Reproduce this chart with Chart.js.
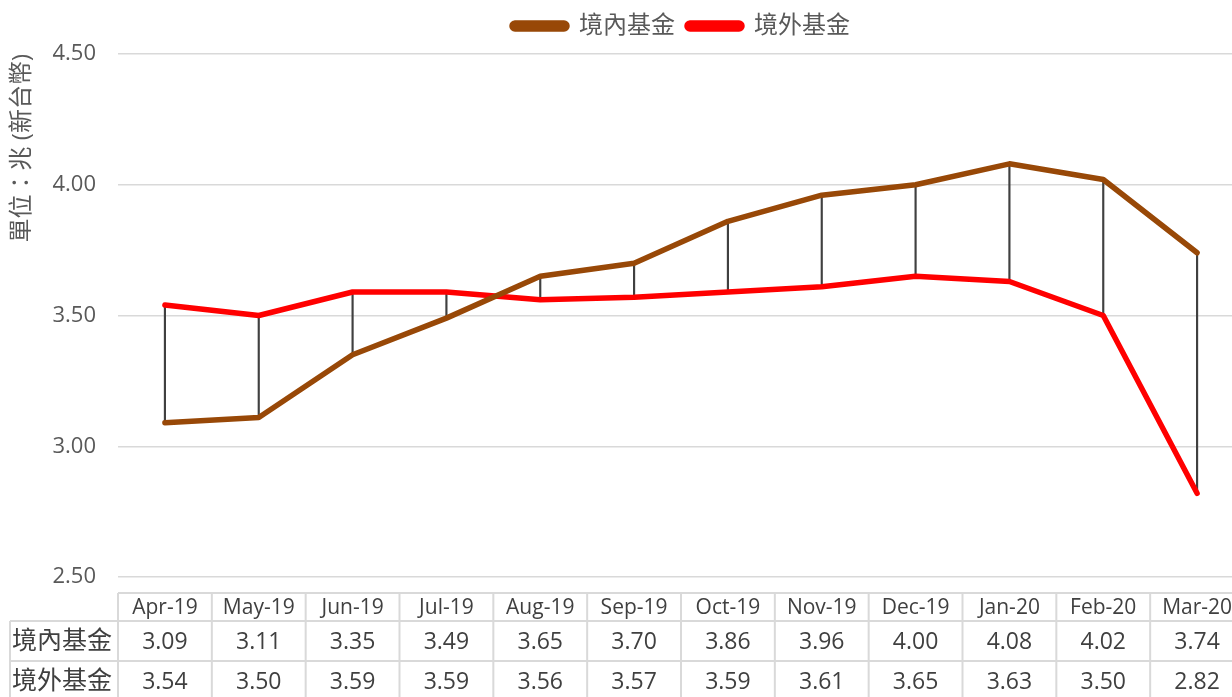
<!DOCTYPE html>
<html>
<head>
<meta charset="utf-8">
<script src="https://cdn.jsdelivr.net/npm/chart.js@4.4.1/dist/chart.umd.min.js"></script>
<style>
  html, body { margin: 0; padding: 0; background: #fff; overflow: hidden; }
  #wrap { width: 1244px; height: 697px; }
</style>
</head>
<body>
<div id="wrap"><canvas id="fundChart"></canvas></div>
<script>
// ---- data ----
const months = ['Apr-19', 'May-19', 'Jun-19', 'Jul-19', 'Aug-19', 'Sep-19',
                'Oct-19', 'Nov-19', 'Dec-19', 'Jan-20', 'Feb-20', 'Mar-20'];
const domestic = [3.09, 3.11, 3.35, 3.49, 3.65, 3.70, 3.86, 3.96, 4.00, 4.08, 4.02, 3.74];
const offshore = [3.54, 3.50, 3.59, 3.59, 3.56, 3.57, 3.59, 3.61, 3.65, 3.63, 3.50, 2.82];
const seriesNames = ['境內基金', '境外基金'];
const yTicks = [2.50, 3.00, 3.50, 4.00, 4.50];

const FONT = "'Open Sans', 'Noto Sans CJK TC', sans-serif";
const GRID = '#d9d9d9';

// high-low lines between the two series
const hiLow = domestic.map((v, i) => [Math.min(v, offshore[i]), Math.max(v, offshore[i])]);

// centre the legend over the plot area instead of the whole canvas, nudge it up
const legendShift = {
  id: 'legendShift',
  afterLayout(chart) {
    const lg = chart.legend;
    const area = chart.chartArea;
    const shift = (area.left + area.right) / 2 - (lg.left + lg.right) / 2;
    lg.left += shift;
    lg.right += shift;
    lg.top -= 6;
    lg.bottom -= 6;
  }
};

// data table under the plot
const dataTable = {
  id: 'dataTable',
  afterDraw(chart) {
    const ctx = chart.ctx;
    const x = chart.scales.x;
    const step = x.getPixelForValue(1) - x.getPixelForValue(0);
    const left = x.getPixelForValue(0) - step / 2;
    const base = chart.chartArea.bottom;
    const rows = [base + 16, base + 44, base + 84, base + 124];
    const labelLeft = 10;

    ctx.save();
    ctx.strokeStyle = GRID;
    ctx.lineWidth = 2;
    ctx.beginPath();
    ctx.moveTo(left, rows[0]); ctx.lineTo(chart.width, rows[0]);
    ctx.moveTo(labelLeft, rows[1]); ctx.lineTo(chart.width, rows[1]);
    ctx.moveTo(labelLeft, rows[2]); ctx.lineTo(chart.width, rows[2]);
    ctx.moveTo(labelLeft, rows[1]); ctx.lineTo(labelLeft, rows[3]);
    for (let k = 0; k <= months.length; k++) {
      const px = left + k * step;
      ctx.moveTo(px, rows[0]); ctx.lineTo(px, rows[3]);
    }
    ctx.stroke();

    ctx.fillStyle = '#404040';
    ctx.textBaseline = 'middle';
    ctx.textAlign = 'center';
    ctx.font = `21px ${FONT}`;
    months.forEach((m, i) => ctx.fillText(m, x.getPixelForValue(i), (rows[0] + rows[1]) / 2 + 1));
    ctx.font = `23px ${FONT}`;
    [domestic, offshore].forEach((vals, r) => {
      const cy = (rows[r + 1] + rows[r + 2]) / 2 + 1;
      vals.forEach((v, i) => ctx.fillText(v.toFixed(2), x.getPixelForValue(i), cy));
    });
    ctx.textAlign = 'left';
    ctx.font = `25px ${FONT}`;
    seriesNames.forEach((n, r) => ctx.fillText(n, labelLeft + 2, (rows[r + 1] + rows[r + 2]) / 2 + 1));
    ctx.restore();
  }
};

new Chart(document.getElementById('fundChart'), {
  data: {
    labels: months,
    datasets: [
      {
        type: 'line',
        label: seriesNames[0],
        data: domestic,
        borderColor: '#984807',
        backgroundColor: '#984807',
        borderWidth: 5.5,
        pointRadius: 0,
        borderJoinStyle: 'round',
        borderCapStyle: 'round',
        order: 1
      },
      {
        type: 'line',
        label: seriesNames[1],
        data: offshore,
        borderColor: '#ff0000',
        backgroundColor: '#ff0000',
        borderWidth: 5.5,
        pointRadius: 0,
        borderJoinStyle: 'round',
        borderCapStyle: 'round',
        order: 2
      },
      {
        type: 'bar',
        label: 'hilo',
        data: hiLow,
        backgroundColor: '#404040',
        barThickness: 1.5,
        order: 3
      }
    ]
  },
  options: {
    responsive: true,
    maintainAspectRatio: false,
    animation: false,
    layout: { padding: { top: 8, left: 0, right: 0, bottom: 112 } },
    plugins: {
      tooltip: { enabled: false },
      legend: {
        position: 'top',
        labels: {
          filter: item => item.datasetIndex < 2,
          color: '#595959',
          font: { family: FONT, size: 24 },
          boxWidth: 55,
          boxHeight: 6,
          useBorderRadius: true,
          borderRadius: 3,
          padding: 12
        }
      }
    },
    scales: {
      x: {
        type: 'category',
        offset: true,
        grid: { display: false },
        border: { display: false },
        ticks: { display: false }
      },
      y: {
        min: 2.5,
        max: 4.5,
        afterBuildTicks: s => { s.ticks = yTicks.map(v => ({ value: v })); },
        afterFit: s => { s.width = 118; },
        ticks: {
          color: '#595959',
          font: { family: FONT, size: 22 },
          padding: 22,
          callback: v => Number(v).toFixed(2)
        },
        grid: { color: GRID, lineWidth: 1.5, drawTicks: false },
        border: { display: false },
        title: {
          display: true,
          text: '單位：兆 (新台幣)',
          align: 'end',
          color: '#595959',
          font: { family: FONT, size: 24 },
          padding: { top: 8, bottom: 0 }
        }
      }
    }
  },
  plugins: [legendShift, dataTable]
});
</script>
</body>
</html>
